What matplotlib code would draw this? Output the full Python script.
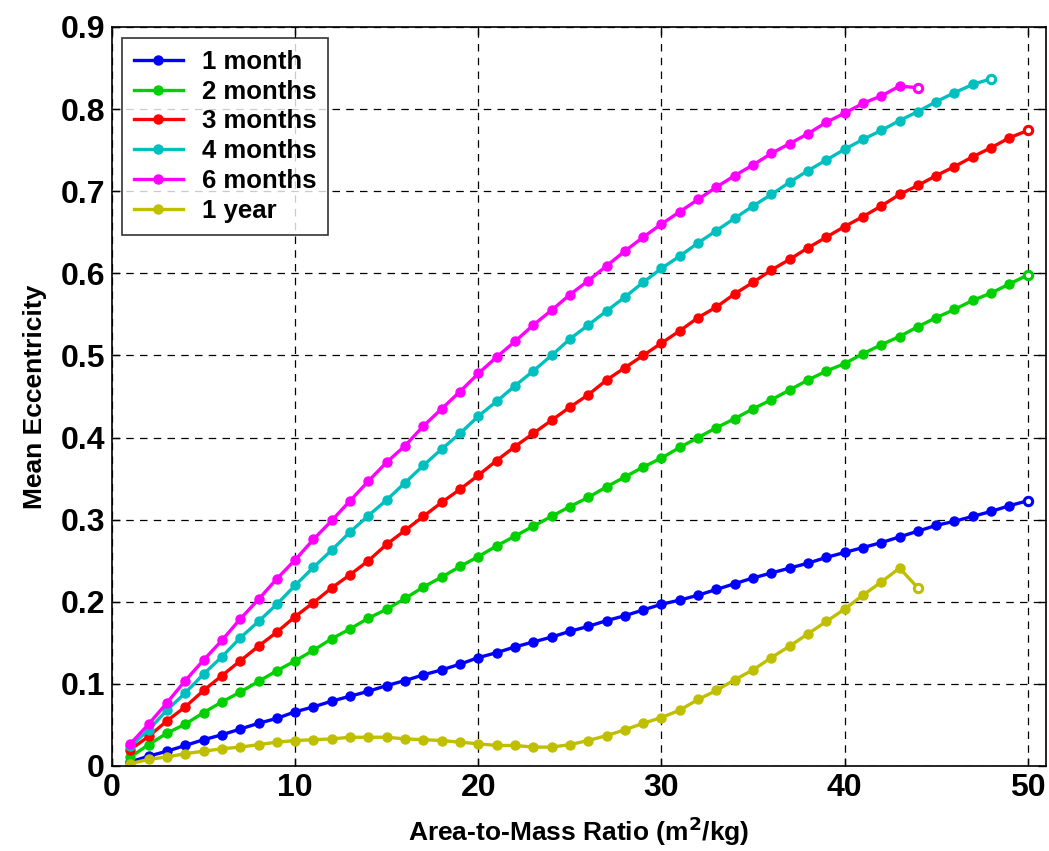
import numpy as np
import matplotlib
matplotlib.use('Agg')
import matplotlib.pyplot as plt

# area-to-mass ratio (m^2/kg)
amr = list(range(1, 51))

ecc_1month = [0.005, 0.012, 0.018, 0.025, 0.032, 0.038, 0.045, 0.052, 0.058, 0.066,
              0.072, 0.079, 0.085, 0.091, 0.098, 0.104, 0.111, 0.117, 0.124, 0.132,
              0.138, 0.145, 0.151, 0.157, 0.164, 0.170, 0.177, 0.183, 0.190, 0.197,
              0.202, 0.208, 0.215, 0.222, 0.229, 0.235, 0.241, 0.247, 0.254, 0.260,
              0.266, 0.272, 0.279, 0.286, 0.293, 0.298, 0.304, 0.310, 0.317, 0.323]
ecc_2months = [0.011, 0.026, 0.040, 0.051, 0.065, 0.078, 0.090, 0.103, 0.116, 0.128,
               0.141, 0.155, 0.167, 0.180, 0.191, 0.204, 0.218, 0.230, 0.243, 0.255,
               0.268, 0.280, 0.292, 0.304, 0.316, 0.327, 0.340, 0.352, 0.364, 0.375,
               0.388, 0.400, 0.412, 0.423, 0.435, 0.446, 0.458, 0.470, 0.481, 0.490,
               0.502, 0.513, 0.523, 0.535, 0.546, 0.556, 0.567, 0.576, 0.587, 0.598]
ecc_3months = [0.020, 0.036, 0.055, 0.072, 0.092, 0.110, 0.128, 0.146, 0.163, 0.182,
               0.199, 0.217, 0.233, 0.250, 0.270, 0.287, 0.304, 0.321, 0.337, 0.354,
               0.372, 0.389, 0.405, 0.421, 0.437, 0.452, 0.470, 0.485, 0.500, 0.515,
               0.530, 0.546, 0.559, 0.575, 0.589, 0.604, 0.617, 0.631, 0.644, 0.657,
               0.669, 0.682, 0.696, 0.707, 0.719, 0.730, 0.742, 0.753, 0.765, 0.774]
ecc_4months = [0.024, 0.044, 0.068, 0.089, 0.112, 0.133, 0.156, 0.176, 0.197, 0.220,
               0.242, 0.263, 0.285, 0.305, 0.324, 0.345, 0.366, 0.386, 0.405, 0.426,
               0.444, 0.463, 0.481, 0.500, 0.520, 0.537, 0.554, 0.571, 0.589, 0.606,
               0.621, 0.637, 0.652, 0.667, 0.682, 0.696, 0.711, 0.725, 0.738, 0.751,
               0.763, 0.774, 0.786, 0.797, 0.809, 0.820, 0.830, 0.837]
ecc_6months = [0.027, 0.051, 0.077, 0.104, 0.129, 0.153, 0.179, 0.203, 0.228, 0.251,
               0.276, 0.299, 0.323, 0.347, 0.370, 0.390, 0.414, 0.435, 0.456, 0.478,
               0.498, 0.517, 0.537, 0.555, 0.574, 0.591, 0.609, 0.627, 0.644, 0.660,
               0.675, 0.690, 0.705, 0.719, 0.732, 0.746, 0.758, 0.770, 0.784, 0.795,
               0.807, 0.816, 0.828, 0.826]
ecc_1year = [0.003, 0.008, 0.011, 0.015, 0.018, 0.021, 0.023, 0.026, 0.029, 0.031,
             0.032, 0.033, 0.035, 0.035, 0.035, 0.033, 0.032, 0.031, 0.029, 0.027,
             0.025, 0.025, 0.023, 0.023, 0.026, 0.031, 0.037, 0.044, 0.052, 0.059,
             0.068, 0.081, 0.092, 0.105, 0.117, 0.132, 0.146, 0.161, 0.176, 0.191,
             0.208, 0.224, 0.241, 0.217]

series = [
    ('1 month', ecc_1month, '#0000ff'),
    ('2 months', ecc_2months, '#00d000'),
    ('3 months', ecc_3months, '#ff0000'),
    ('4 months', ecc_4months, '#00bfbf'),
    ('6 months', ecc_6months, '#ff00ff'),
    ('1 year', ecc_1year, '#bfbf00'),
]

plt.rcParams['font.family'] = ['Liberation Sans', 'DejaVu Sans']
plt.rcParams['font.weight'] = 'bold'

fig = plt.figure(figsize=(10.49, 8.51), dpi=100)
ax = fig.add_axes([0.1068, 0.0999, 0.8904, 0.8684])

for label, ecc, color in series:
    x = amr[:len(ecc)]
    ax.plot(x, ecc, '-o', color=color, lw=2.4, ms=6.5, mec=color, mfc=color,
            label=label)
    # final point drawn as an open ring
    ax.plot(x[-1], ecc[-1], 'o', color=color, ms=6, mfc='white', mew=2.2)

ax.set_xlim(0, 51)
ax.set_ylim(0, 0.9)
ax.set_xticks([0, 10, 20, 30, 40, 50])
ax.set_yticks(np.arange(0, 0.91, 0.1))
ax.set_yticklabels(['0', '0.1', '0.2', '0.3', '0.4', '0.5', '0.6', '0.7', '0.8', '0.9'])

ax.grid(True, color='black', linestyle=(0, (6, 5)), linewidth=0.9)
ax.tick_params(direction='in', top=True, right=True, length=6, width=1,
               labelsize=23, pad=5)
for lbl in ax.get_xticklabels() + ax.get_yticklabels():
    lbl.set_fontweight('bold')
for sp in ax.spines.values():
    sp.set_linewidth(1.2)

ax.set_xlabel('Area-to-Mass Ratio (m$^\\mathbf{2}$/kg)', fontsize=19,
              fontweight='bold', labelpad=8)
ax.set_ylabel('Mean Eccentricity', fontsize=19, fontweight='bold', labelpad=10)

leg = ax.legend(loc='upper left', bbox_to_anchor=(0.011, 0.985), fontsize=18.5,
                frameon=True, fancybox=False, edgecolor='black',
                handlelength=1.9, handletextpad=0.75, labelspacing=0.23,
                borderpad=0.45, borderaxespad=0)
leg.get_frame().set_linewidth(1.2)
for t in leg.get_texts():
    t.set_fontweight('bold')

fig.savefig('out.png', dpi=100)
